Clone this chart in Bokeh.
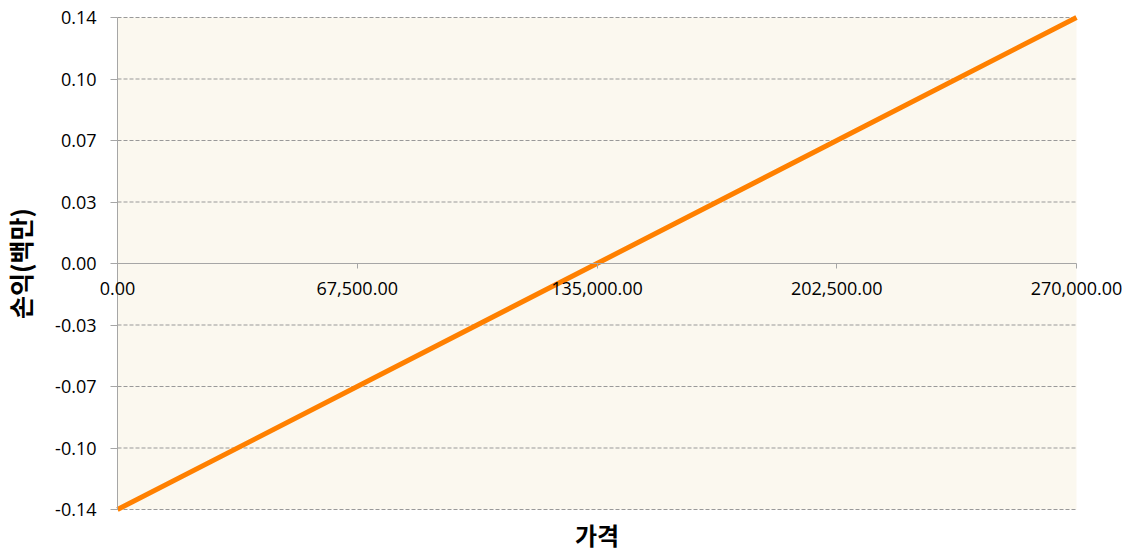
from bokeh.plotting import figure
from bokeh.models import FixedTicker, Range1d, Label, BoxAnnotation
from bokeh.embed import file_html
from bokeh.resources import INLINE

prices = [0, 67500, 135000, 202500, 270000]
pnl = [-0.14, -0.07, 0.0, 0.07, 0.14]
x_ticks = [0, 67500, 135000, 202500, 270000]
x_tick_labels = ["0.00", "67,500.00", "135,000.00", "202,500.00", "270,000.00"]
y_ticks = [-0.14, -0.105, -0.07, -0.035, 0.0, 0.035, 0.07, 0.105, 0.14]
y_tick_labels = ["-0.14", "-0.10", "-0.07", "-0.03", "0.00", "0.03", "0.07", "0.10", "0.14"]
x_label = "가격"
y_label = "손익(백만)"

# layout (pixels): plotting area 959 x 492, with margins around it inside the frame
AREA_W, LEFT_PX, RIGHT_PX = 959, 117, 48
AREA_H, TOP_PX, BOTTOM_PX = 492, 17, 43
upp_x = (x_ticks[-1] - x_ticks[0]) / AREA_W
upp_y = (y_ticks[-1] - y_ticks[0]) / AREA_H
x_range = Range1d(x_ticks[0] - LEFT_PX * upp_x, x_ticks[-1] + RIGHT_PX * upp_x)
y_range = Range1d(y_ticks[0] - BOTTOM_PX * upp_y, y_ticks[-1] + TOP_PX * upp_y)

p = figure(frame_width=AREA_W + LEFT_PX + RIGHT_PX, frame_height=AREA_H + TOP_PX + BOTTOM_PX,
           x_range=x_range, y_range=y_range,
           output_backend="svg", toolbar_location=None,
           min_border_left=0, min_border_right=0, min_border_top=0, min_border_bottom=0)

p.background_fill_color = "white"
p.border_fill_color = "white"
p.outline_line_color = None
p.xgrid.visible = False
p.ygrid.visible = False

# plot area background
p.add_layout(BoxAnnotation(left=x_ticks[0], right=x_ticks[-1], bottom=y_ticks[0], top=y_ticks[-1],
                           fill_color="#FBF8EF", fill_alpha=1.0, line_color=None, level="image"))

# dashed horizontal gridlines
p.segment(x0=[x_ticks[0]] * len(y_ticks), x1=[x_ticks[-1]] * len(y_ticks), y0=y_ticks, y1=y_ticks,
          line_color="#999999", line_dash="4 2", line_width=1)

p.line(prices, pnl, line_color="#FF8000", line_width=5)

# y axis at x = 0
ya = p.yaxis[0]
ya.fixed_location = x_ticks[0]
ya.bounds = (y_ticks[0], y_ticks[-1])
ya.ticker = FixedTicker(ticks=y_ticks)
ya.major_label_overrides = {t: l for t, l in zip(y_ticks, y_tick_labels)}
ya.axis_line_color = "#A6A6A6"
ya.major_tick_line_color = "#A6A6A6"
ya.major_tick_out = 7
ya.major_tick_in = 0
ya.minor_tick_line_color = None
ya.major_label_text_font = "Open Sans"
ya.major_label_text_font_size = "18px"
ya.major_label_text_color = "#000000"
ya.major_label_standoff = 14
ya.axis_label = y_label
ya.axis_label_text_font = "Noto Sans CJK KR"
ya.axis_label_text_font_size = "25px"
ya.axis_label_text_font_style = "bold"
ya.axis_label_text_color = "#000000"
ya.axis_label_standoff = 14

# x axis crossing at y = 0
xa = p.xaxis[0]
xa.fixed_location = 0
xa.bounds = (x_ticks[0], x_ticks[-1])
xa.ticker = FixedTicker(ticks=x_ticks)
xa.axis_line_color = "#A6A6A6"
xa.major_tick_line_color = "#A6A6A6"
xa.major_tick_out = 5
xa.major_tick_in = 0
xa.minor_tick_line_color = None
xa.major_label_text_alpha = 0
xa.major_label_text_font_size = "1px"

for t, lab in zip(x_ticks, x_tick_labels):
    p.add_layout(Label(x=t, y=0.0, text=lab, y_offset=-18, level="overlay",
                       text_align="center", text_baseline="top",
                       text_font="Open Sans", text_font_size="18px", text_color="#000000"))

# x axis title, centred below the plotting area
p.add_layout(Label(x=(x_ticks[0] + x_ticks[-1]) / 2, y=y_ticks[0], text=x_label, y_offset=-25,
                   level="overlay", text_align="center", text_baseline="middle",
                   text_font="Noto Sans CJK KR", text_font_size="24px", text_font_style="bold",
                   text_color="#000000"))

open("out.html", "w").write(file_html(p, INLINE))
